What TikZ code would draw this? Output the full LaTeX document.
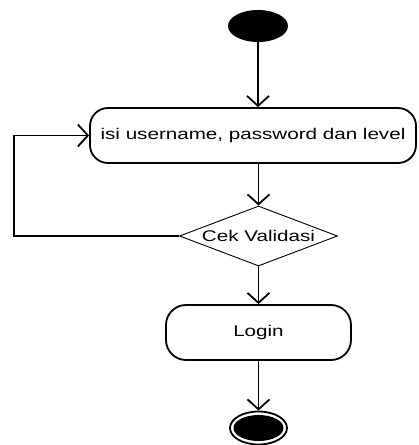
\documentclass[tikz,border=0pt]{standalone}
\usepackage{fontspec}
\setmainfont{Liberation Sans}
\newfontfamily\lab[FakeStretch=1.33]{Liberation Sans}
\usetikzlibrary{shapes.geometric,arrows.meta}
\begin{document}
\begin{tikzpicture}[x=1pt,y=-1pt,
  conn/.style={line width=1.8pt,-{Straight Barb[length=10pt,width=22pt]}},
  actbox/.style={draw,line width=1.8pt,rectangle,rounded corners=18pt,inner sep=0pt,font=\lab\fontsize{15.5}{18}\selectfont},
  decbox/.style={draw,line width=0.9pt,diamond,shape aspect=2.633,inner sep=0pt,minimum width=158pt,minimum height=60pt,font=\lab\fontsize{15.5}{18}\selectfont},
  initst/.style={ellipse,fill=black,minimum width=60pt,minimum height=32pt,inner sep=0pt},
  finalring/.style={ellipse,draw,line width=1.8pt,minimum width=57pt,minimum height=33pt,inner sep=0pt},
  finaldot/.style={ellipse,fill=black,minimum width=50pt,minimum height=26pt,inner sep=0pt}]
\useasboundingbox (0,0) rectangle (419,445);
\node[initst] (start) at (258,26) {};
\node[actbox,minimum width=326pt,minimum height=55pt] (act1) at (253,135.5) {isi username, password dan level};
\node[decbox] (dec) at (258.5,236) {Cek Validasi};
\node[actbox,minimum width=185pt,minimum height=55pt,rounded corners=20pt] (login) at (258.5,332.5) {Login};
\node[finalring] (endr) at (258.5,428) {};
\node[finaldot] (endd) at (258.5,428) {};
\coordinate (lc) at (14,0);
\draw[conn] (start.south) -- (start.south |- act1.north);
\draw[conn] (act1.south -| dec.north) -- (dec.north);
\draw[conn] (dec.west) -- (dec.west -| lc) |- (act1.west);
\draw[conn] (dec.south) -- (login.north);
\draw[conn] (login.south) -- (endr.north);
\end{tikzpicture}
\end{document}
